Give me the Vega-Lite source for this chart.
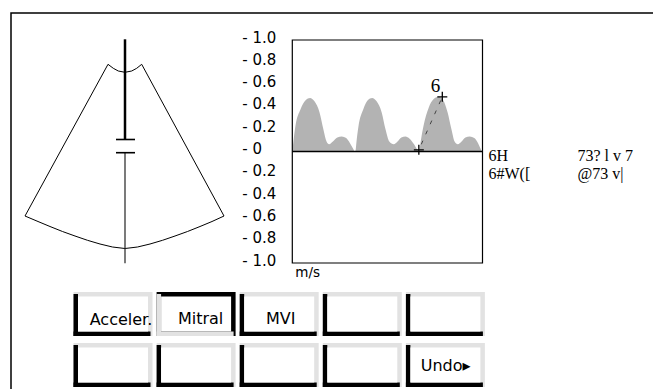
{
  "$schema": "https://vega.github.io/schema/vega-lite/v6.json",
  "width": 653,
  "height": 389,
  "padding": 0,
  "autosize": {"type": "none"},
  "background": "white",
  "config": {"view": {"stroke": null}},
  "resolve": {"scale": {"x": "independent", "y": "independent"}},
  "layer": [
    {
      "layer": [
        {
          "data": {"values": [
            {"px": 11, "py": 400, "o": 0},
            {"px": 11, "py": 13, "o": 1},
            {"px": 660, "py": 13, "o": 2}
          ]},
          "mark": {"type": "line", "stroke": "black", "strokeWidth": 1.5},
          "encoding": {
            "x": {"field": "px", "type": "quantitative", "scale": {"domain": [0, 653], "nice": false, "zero": false}, "axis": null},
            "y": {"field": "py", "type": "quantitative", "scale": {"domain": [0, 389], "reverse": true, "nice": false, "zero": false}, "axis": null},
            "order": {"field": "o"}
          }
        },
        {
          "data": {"values": [
            {"px": 25, "py": 216, "o": 0},
            {"px": 108, "py": 64.3, "o": 1},
            {"px": 113.3, "py": 68.3, "o": 2},
            {"px": 118.3, "py": 71, "o": 3},
            {"px": 125, "py": 72.3, "o": 4},
            {"px": 131.7, "py": 71, "o": 5},
            {"px": 136.7, "py": 68.3, "o": 6},
            {"px": 141.7, "py": 64.3, "o": 7},
            {"px": 224, "py": 216, "o": 8},
            {"px": 212, "py": 221.5, "o": 9},
            {"px": 200, "py": 226.5, "o": 10},
            {"px": 187.5, "py": 231.5, "o": 11},
            {"px": 175, "py": 236, "o": 12},
            {"px": 162.5, "py": 240.3, "o": 13},
            {"px": 150, "py": 244, "o": 14},
            {"px": 137.5, "py": 247, "o": 15},
            {"px": 125, "py": 248.5, "o": 16},
            {"px": 112.5, "py": 247, "o": 17},
            {"px": 100, "py": 244, "o": 18},
            {"px": 87.5, "py": 240.3, "o": 19},
            {"px": 75, "py": 236, "o": 20},
            {"px": 62.5, "py": 231.5, "o": 21},
            {"px": 50, "py": 226.5, "o": 22},
            {"px": 38, "py": 221.5, "o": 23},
            {"px": 25, "py": 216, "o": 24}
          ]},
          "mark": {"type": "line", "stroke": "black", "strokeWidth": 1},
          "encoding": {
            "x": {"field": "px", "type": "quantitative", "axis": null},
            "y": {"field": "py", "type": "quantitative", "axis": null},
            "order": {"field": "o"}
          }
        },
        {
          "data": {"values": [{"px": 125, "py": 39.3, "py2": 139.3}]},
          "mark": {"type": "rule", "stroke": "black", "strokeWidth": 2.5},
          "encoding": {
            "x": {"field": "px", "type": "quantitative", "axis": null},
            "y": {"field": "py", "type": "quantitative", "axis": null},
            "y2": {"field": "py2"}
          }
        },
        {
          "data": {"values": [{"px": 125, "py": 152.7, "py2": 263.3}]},
          "mark": {"type": "rule", "stroke": "#222222", "strokeWidth": 1.2},
          "encoding": {
            "x": {"field": "px", "type": "quantitative", "axis": null},
            "y": {"field": "py", "type": "quantitative", "axis": null},
            "y2": {"field": "py2"}
          }
        },
        {
          "data": {"values": [{"px": 116, "px2": 135, "py": 139.5}, {"px": 116, "px2": 135, "py": 152.7}]},
          "mark": {"type": "rule", "stroke": "black", "strokeWidth": 1.6},
          "encoding": {
            "x": {"field": "px", "type": "quantitative", "axis": null},
            "x2": {"field": "px2"},
            "y": {"field": "py", "type": "quantitative", "axis": null}
          }
        },
        {
          "data": {"values": [
            {"px": 488.5, "py": 160.5, "label": "6H"},
            {"px": 488.5, "py": 179, "label": "6#W(["},
            {"px": 577.5, "py": 160.5, "label": "73? l v 7"},
            {"px": 577.5, "py": 179, "label": "@73 v|"}
          ]},
          "mark": {"type": "text", "align": "left", "baseline": "alphabetic", "font": "Liberation Serif", "fontSize": 16, "color": "black"},
          "encoding": {
            "x": {"field": "px", "type": "quantitative", "axis": null},
            "y": {"field": "py", "type": "quantitative", "axis": null},
            "text": {"field": "label"}
          }
        }
      ]
    },
    {
      "layer": [
        {
          "data": {"values": [
            {"t": 0, "v": 0}, {"t": 0.02, "v": 0.1}, {"t": 0.05, "v": 0.23}, {"t": 0.13, "v": 0.38},
            {"t": 0.21, "v": 0.46}, {"t": 0.28, "v": 0.48}, {"t": 0.35, "v": 0.45}, {"t": 0.43, "v": 0.35},
            {"t": 0.49, "v": 0.2}, {"t": 0.54, "v": 0.09}, {"t": 0.58, "v": 0.065}, {"t": 0.64, "v": 0.09},
            {"t": 0.71, "v": 0.125}, {"t": 0.78, "v": 0.135}, {"t": 0.85, "v": 0.12}, {"t": 0.91, "v": 0.075},
            {"t": 0.96, "v": 0.025}, {"t": 0.985, "v": 0},
            {"t": 0.995, "v": 0}, {"t": 1.015, "v": 0.1}, {"t": 1.045, "v": 0.23}, {"t": 1.12, "v": 0.38},
            {"t": 1.19, "v": 0.46}, {"t": 1.26, "v": 0.48}, {"t": 1.33, "v": 0.45}, {"t": 1.41, "v": 0.35},
            {"t": 1.47, "v": 0.2}, {"t": 1.53, "v": 0.09}, {"t": 1.6, "v": 0.065},
            {"t": 1.66, "v": 0.09}, {"t": 1.72, "v": 0.125}, {"t": 1.785, "v": 0.135}, {"t": 1.85, "v": 0.115},
            {"t": 1.92, "v": 0.065}, {"t": 1.97, "v": 0.018}, {"t": 1.995, "v": 0},
            {"t": 2.0, "v": 0}, {"t": 2.025, "v": 0.09}, {"t": 2.07, "v": 0.23}, {"t": 2.15, "v": 0.39},
            {"t": 2.23, "v": 0.47}, {"t": 2.31, "v": 0.49}, {"t": 2.38, "v": 0.46}, {"t": 2.45, "v": 0.35},
            {"t": 2.51, "v": 0.2}, {"t": 2.56, "v": 0.09}, {"t": 2.61, "v": 0.065}, {"t": 2.67, "v": 0.09},
            {"t": 2.73, "v": 0.125}, {"t": 2.8, "v": 0.135}, {"t": 2.87, "v": 0.12}, {"t": 2.93, "v": 0.075},
            {"t": 2.97, "v": 0.025}, {"t": 2.99, "v": 0}
          ]},
          "mark": {"type": "area", "interpolate": "monotone", "color": "#b3b3b3"},
          "encoding": {
            "x": {"field": "t", "type": "quantitative", "scale": {"domain": [0, 3], "range": [292.3, 482.5], "nice": false, "zero": false}, "axis": null},
            "y": {"field": "v", "type": "quantitative", "scale": {"domain": [-1, 1], "range": [263, 40], "nice": false, "zero": false}, "axis": null},
            "y2": {"datum": 0}
          }
        },
        {
          "data": {"values": [
            {"v": 1, "label": "- 1.0"}, {"v": 0.8, "label": "- 0.8"}, {"v": 0.6, "label": "- 0.6"},
            {"v": 0.4, "label": "- 0.4"}, {"v": 0.2, "label": "- 0.2"}, {"v": 0, "label": "- 0"},
            {"v": -0.2, "label": "- 0.2"}, {"v": -0.4, "label": "- 0.4"}, {"v": -0.6, "label": "- 0.6"},
            {"v": -0.8, "label": "- 0.8"}, {"v": -1, "label": "- 1.0"}
          ]},
          "mark": {"type": "text", "align": "left", "baseline": "middle", "xOffset": -50, "yOffset": -2.5, "font": "DejaVu Sans", "fontSize": 15, "color": "black"},
          "encoding": {
            "x": {"datum": 0, "type": "quantitative", "axis": null},
            "y": {"field": "v", "type": "quantitative", "axis": null},
            "text": {"field": "label"}
          }
        },
        {
          "data": {"values": [{"t": 0, "t2": 3, "v": -1, "v2": 1}]},
          "mark": {"type": "rect", "fill": "white", "fillOpacity": 0, "stroke": "black", "strokeWidth": 1.2},
          "encoding": {
            "x": {"field": "t", "type": "quantitative", "axis": null},
            "x2": {"field": "t2"},
            "y": {"field": "v", "type": "quantitative", "axis": null},
            "y2": {"field": "v2"}
          }
        },
        {
          "data": {"values": [{"t": 0, "t2": 3, "v": 0}]},
          "mark": {"type": "rule", "stroke": "black", "strokeWidth": 1.6},
          "encoding": {
            "x": {"field": "t", "type": "quantitative", "axis": null},
            "x2": {"field": "t2"},
            "y": {"field": "v", "type": "quantitative", "axis": null}
          }
        },
        {
          "data": {"values": [{"t": 1.996, "v": 0.015, "o": 0}, {"t": 2.366, "v": 0.49, "o": 1}]},
          "mark": {"type": "line", "stroke": "#444444", "strokeWidth": 1, "strokeDash": [4, 7], "strokeDashOffset": -6},
          "encoding": {
            "x": {"field": "t", "type": "quantitative", "axis": null},
            "y": {"field": "v", "type": "quantitative", "axis": null},
            "order": {"field": "o"}
          }
        },
        {
          "data": {"values": [{"t": 1.996, "v": 0.015}, {"t": 2.366, "v": 0.49}]},
          "mark": {"type": "point", "shape": "M-1,0H1M0,-1V1", "size": 100, "filled": false, "stroke": "black", "strokeWidth": 1.3, "opacity": 1},
          "encoding": {
            "x": {"field": "t", "type": "quantitative", "axis": null},
            "y": {"field": "v", "type": "quantitative", "axis": null}
          }
        },
        {
          "data": {"values": [{"t": 2.26, "v": 0.53, "label": "6"}]},
          "mark": {"type": "text", "align": "center", "baseline": "alphabetic", "font": "Liberation Serif", "fontSize": 19, "color": "black"},
          "encoding": {
            "x": {"field": "t", "type": "quantitative", "axis": null},
            "y": {"field": "v", "type": "quantitative", "axis": null},
            "text": {"field": "label"}
          }
        },
        {
          "data": {"values": [{"t": 0, "v": -1, "label": "m/s"}]},
          "mark": {"type": "text", "align": "left", "baseline": "alphabetic", "dx": 3, "dy": 13.7, "font": "DejaVu Sans", "fontSize": 13.5, "color": "black"},
          "encoding": {
            "x": {"field": "t", "type": "quantitative", "axis": null},
            "y": {"field": "v", "type": "quantitative", "axis": null},
            "text": {"field": "label"}
          }
        }
      ]
    },
    {
      "data": {"values": [
        {"col": 1, "row": 1, "label": "Acceler.", "state": "up"},
        {"col": 2, "row": 1, "label": "Mitral", "state": "down"},
        {"col": 3, "row": 1, "label": "MVI", "state": "up"},
        {"col": 4, "row": 1, "label": "", "state": "up"},
        {"col": 5, "row": 1, "label": "", "state": "up"},
        {"col": 1, "row": 2, "label": "", "state": "up"},
        {"col": 2, "row": 2, "label": "", "state": "up"},
        {"col": 3, "row": 2, "label": "", "state": "up"},
        {"col": 4, "row": 2, "label": "", "state": "up"},
        {"col": 5, "row": 2, "label": "Undo▸", "state": "up"}
      ]},
      "layer": [
        {
          "mark": {"type": "rect", "x2Offset": 79, "y2Offset": 44},
          "encoding": {
            "x": {"field": "col", "type": "quantitative", "scale": {"domain": [1, 6], "range": [73.5, 489], "nice": false, "zero": false}, "axis": null},
            "x2": {"field": "col"},
            "y": {"field": "row", "type": "quantitative", "scale": {"domain": [1, 3], "range": [292, 394], "nice": false, "zero": false}, "axis": null},
            "y2": {"field": "row"},
            "fill": {"condition": {"test": "datum.state === 'down'", "value": "black"}, "value": "#e2e2e2"}
          }
        },
        {
          "mark": {"type": "rect", "x2Offset": 4.5, "yOffset": 2, "y2Offset": 44},
          "encoding": {
            "x": {"field": "col", "type": "quantitative", "axis": null},
            "x2": {"field": "col"},
            "y": {"field": "row", "type": "quantitative", "axis": null},
            "y2": {"field": "row"},
            "fill": {"condition": {"test": "datum.state === 'down'", "value": "#e2e2e2"}, "value": "black"}
          }
        },
        {
          "mark": {"type": "rect", "x2Offset": 77, "yOffset": 39.5, "y2Offset": 44},
          "encoding": {
            "x": {"field": "col", "type": "quantitative", "axis": null},
            "x2": {"field": "col"},
            "y": {"field": "row", "type": "quantitative", "axis": null},
            "y2": {"field": "row"},
            "fill": {"condition": {"test": "datum.state === 'down'", "value": "#e2e2e2"}, "value": "black"}
          }
        },
        {
          "mark": {"type": "rect", "xOffset": 4.5, "x2Offset": 74.5, "yOffset": 4.5, "y2Offset": 39.5, "fill": "white"},
          "encoding": {
            "x": {"field": "col", "type": "quantitative", "axis": null},
            "x2": {"field": "col"},
            "y": {"field": "row", "type": "quantitative", "axis": null},
            "y2": {"field": "row"}
          }
        },
        {
          "transform": [{"filter": "datum.label === 'Acceler.'"}],
          "mark": {"type": "text", "align": "center", "baseline": "alphabetic", "xOffset": 47.5, "yOffset": 32.7, "font": "DejaVu Sans", "fontSize": 16, "color": "black"},
          "encoding": {
            "x": {"field": "col", "type": "quantitative", "axis": null},
            "y": {"field": "row", "type": "quantitative", "axis": null},
            "text": {"field": "label"}
          }
        },
        {
          "transform": [{"filter": "datum.label === 'Mitral'"}],
          "mark": {"type": "text", "align": "center", "baseline": "alphabetic", "xOffset": 44, "yOffset": 32, "font": "DejaVu Sans", "fontSize": 16, "color": "black"},
          "encoding": {
            "x": {"field": "col", "type": "quantitative", "axis": null},
            "y": {"field": "row", "type": "quantitative", "axis": null},
            "text": {"field": "label"}
          }
        },
        {
          "transform": [{"filter": "datum.label === 'MVI'"}],
          "mark": {"type": "text", "align": "center", "baseline": "alphabetic", "xOffset": 41, "yOffset": 32, "font": "DejaVu Sans", "fontSize": 16, "color": "black"},
          "encoding": {
            "x": {"field": "col", "type": "quantitative", "axis": null},
            "y": {"field": "row", "type": "quantitative", "axis": null},
            "text": {"field": "label"}
          }
        },
        {
          "transform": [{"filter": "datum.label === 'Undo▸'"}],
          "mark": {"type": "text", "align": "left", "baseline": "alphabetic", "xOffset": 14.8, "yOffset": 28.3, "font": "DejaVu Sans", "fontSize": 16, "color": "black"},
          "encoding": {
            "x": {"field": "col", "type": "quantitative", "axis": null},
            "y": {"field": "row", "type": "quantitative", "axis": null},
            "text": {"field": "label"}
          }
        }
      ]
    }
  ]
}
